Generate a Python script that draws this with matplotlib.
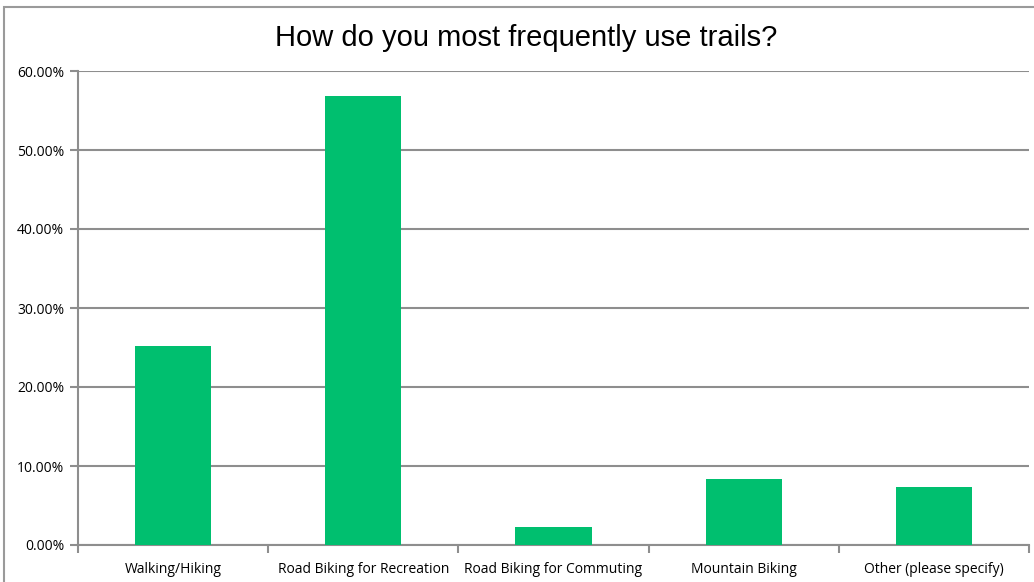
import matplotlib.pyplot as plt
from matplotlib.patches import Rectangle
from matplotlib.ticker import FuncFormatter, FixedLocator
import numpy as np

categories = ["Walking/Hiking", "Road Biking for Recreation", "Road Biking for Commuting",
              "Mountain Biking", "Other (please specify)"]
shares = [25.2, 56.85, 2.28, 8.35, 7.34]
y_ticks = [0, 10, 20, 30, 40, 50, 60]

W, H = 1034, 582
fig = plt.figure(figsize=(W / 100, H / 100), dpi=100)
plt.rcParams['font.family'] = ['Open Sans', 'DejaVu Sans']

# outer frame of the chart
fig.patches.append(Rectangle((4 / W, -0.05), (W + 20 - 4) / W, (H - 7) / H + 0.05,
                             transform=fig.transFigure, fill=False,
                             edgecolor='#9a9a9a', linewidth=1.5))

ax = fig.add_axes([78 / W, (H - 545) / H, (1029 - 78) / W, (545 - 71) / H])

grid_color = '#8e8e8e'
x = np.arange(len(categories))
ax.bar(x, shares, width=0.4, color='#00BF6F', zorder=3)

ax.set_xlim(-0.5, len(categories) - 0.5)
ax.set_ylim(0, 60)
ax.set_yticks(y_ticks)
ax.yaxis.set_major_formatter(FuncFormatter(lambda v, p: f"{v:.2f}%"))
ax.yaxis.grid(True, color=grid_color, linewidth=1.5, zorder=0)

ax.set_xticks(x)
ax.set_xticklabels(categories)
ax.xaxis.set_minor_locator(FixedLocator(np.arange(-0.5, len(categories), 1.0)))
ax.tick_params(axis='x', which='major', length=0, pad=12, labelsize=10)
ax.tick_params(axis='x', which='minor', length=6, width=1.5, color=grid_color)
ax.tick_params(axis='y', length=6, width=1.5, color=grid_color, labelsize=10, pad=4)

for side in ['top', 'right']:
    ax.spines[side].set_visible(False)
for side in ['left', 'bottom']:
    ax.spines[side].set_color(grid_color)
    ax.spines[side].set_linewidth(1.5)

fig.text(526 / W, 1 - 38 / H, "How do you most frequently use trails?",
         ha='center', va='center', fontsize=21, family=['Liberation Sans', 'DejaVu Sans'])

fig.savefig('out.png', dpi=100)
